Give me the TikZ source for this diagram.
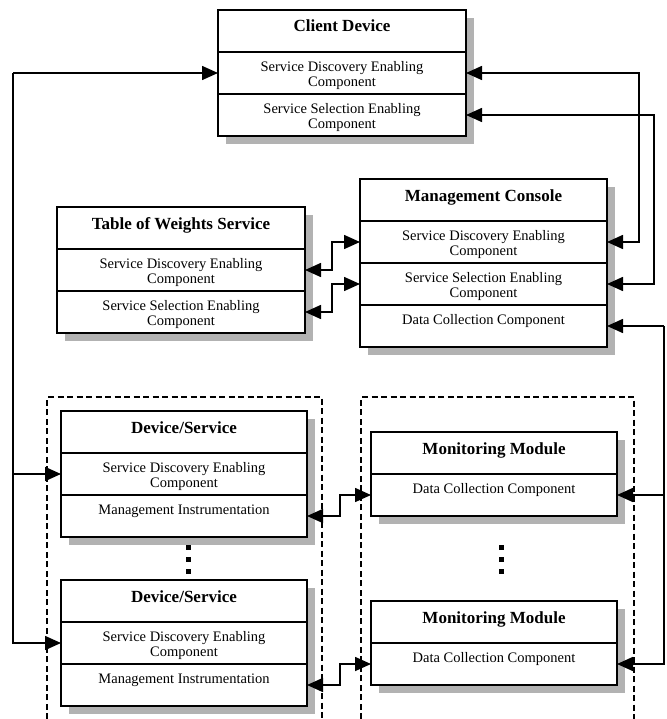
\documentclass[tikz,border=0pt]{standalone}
\usepackage{fontspec}
\setmainfont{Liberation Serif}
\usetikzlibrary{arrows.meta}
\definecolor{shadowgray}{RGB}{178,178,178}

% cell contents: a fixed 42pt high slot, text hung from the top
\newcommand{\headtext}[1]{\parbox[c][42pt][t]{236pt}{\centering\fontsize{17}{20}\selectfont\bfseries\rule{0pt}{22pt}#1}}
\newcommand{\onetext}[1]{\parbox[c][42pt][t]{236pt}{\centering\fontsize{14.5}{15}\selectfont\rule{0pt}{19.5pt}#1}}
\newcommand{\twotext}[2]{\parbox[c][42pt][t]{236pt}{\centering\fontsize{14.5}{15}\selectfont\rule{0pt}{19.5pt}#1\\#2}}

\tikzset{
  cell/.style={draw, line width=1.8pt, fill=white, minimum width=#1,
    minimum height=42pt, inner sep=0pt, outer sep=0pt, anchor=north west},
  shade/.style={fill=shadowgray},
  link/.style={line width=1.6pt, line join=miter},
  both/.style={link, {Triangle[length=16pt,width=14pt]}-{Triangle[length=16pt,width=14pt]}},
  tip/.style={link, -{Triangle[length=16pt,width=14pt]}},
  group/.style={line width=1.6pt, dash pattern=on 6pt off 3.5pt},
  dot/.style={fill=black}
}

\begin{document}
\begin{tikzpicture}[x=1pt, y={(0pt,-1pt)}]
\useasboundingbox (0,0) rectangle (666,719);

% dashed groups (open at the bottom edge)
\draw[group] (47,719) -- (47,397) -- (322,397) -- (322,719);
\draw[group] (361,719) -- (361,397) -- (634,397) -- (634,719);

% drop shadows
\fill[shade] (226,18) rectangle (474,144);   % client device
\fill[shade] (368,187) rectangle (615,355);  % management console
\fill[shade] (65,215) rectangle (313,341);   % table of weights
\fill[shade] (69,419) rectangle (315,545);   % device/service 1
\fill[shade] (69,588) rectangle (315,714);   % device/service 2
\fill[shade] (379,440) rectangle (625,524);  % monitoring 1
\fill[shade] (379,609) rectangle (625,693);  % monitoring 2

% Client Device
\node[cell=248pt] (cd1) at (218,10) {\headtext{Client Device}};
\node[cell=248pt] (cd2) at (218,52) {\twotext{Service Discovery Enabling}{Component}};
\node[cell=248pt] (cd3) at (218,94) {\twotext{Service Selection Enabling}{Component}};

% Management Console
\node[cell=247pt] (mc1) at (360,179) {\headtext{Management Console}};
\node[cell=247pt] (mc2) at (360,221) {\twotext{Service Discovery Enabling}{Component}};
\node[cell=247pt] (mc3) at (360,263) {\twotext{Service Selection Enabling}{Component}};
\node[cell=247pt] (mc4) at (360,305) {\onetext{Data Collection Component}};

% Table of Weights Service
\node[cell=248pt] (tw1) at (57,207) {\headtext{Table of Weights Service}};
\node[cell=248pt] (tw2) at (57,249) {\twotext{Service Discovery Enabling}{Component}};
\node[cell=248pt] (tw3) at (57,291) {\twotext{Service Selection Enabling}{Component}};

% Device/Service boxes
\node[cell=246pt] (da1) at (61,411) {\headtext{Device/Service}};
\node[cell=246pt] (da2) at (61,453) {\twotext{Service Discovery Enabling}{Component}};
\node[cell=246pt] (da3) at (61,495) {\onetext{Management Instrumentation}};
\node[cell=246pt] (db1) at (61,580) {\headtext{Device/Service}};
\node[cell=246pt] (db2) at (61,622) {\twotext{Service Discovery Enabling}{Component}};
\node[cell=246pt] (db3) at (61,664) {\onetext{Management Instrumentation}};

% Monitoring Module boxes
\node[cell=246pt] (ma1) at (371,432) {\headtext{Monitoring Module}};
\node[cell=246pt] (ma2) at (371,474) {\onetext{Data Collection Component}};
\node[cell=246pt] (mb1) at (371,601) {\headtext{Monitoring Module}};
\node[cell=246pt] (mb2) at (371,643) {\onetext{Data Collection Component}};

% vertical ellipses between repeated boxes
\foreach \yy in {547,559,571} {
  \fill[dot] (185.5,\yy-2.5) rectangle ++(5,5);
  \fill[dot] (498.5,\yy-2.5) rectangle ++(5,5);
}

% service discovery bus on the left
\coordinate (lbus) at (13,73);
\draw[tip] (lbus) -- (cd2.west);
\draw[tip] (lbus) |- (da2.west);
\draw[tip] (lbus) |- (db2.west);

% client device to management console
\coordinate (r1) at (639,242);
\coordinate (r2) at (654,284);
\draw[both] (cd2.east) -| (r1) -- (mc2.east);
\draw[both] (cd3.east) -| (r2) -- (mc3.east);

% table of weights to management console
\coordinate (t1) at (332,256);
\coordinate (t2) at (332,298);
\draw[both] (tw2.east) -| (t1) |- (mc2.west);
\draw[both] (tw3.east) -| (t2) |- (mc3.west);

% data collection bus on the right
\coordinate (rbus) at (664,326);
\draw[tip] (rbus) -- (mc4.east);
\draw[tip] (rbus) |- (ma2.east);
\draw[tip] (rbus) |- (mb2.east);

% management instrumentation to monitoring
\coordinate (m1) at (340,505);
\coordinate (m2) at (340,674);
\draw[both] (da3.east) -| (m1) |- (ma2.west);
\draw[both] (db3.east) -| (m2) |- (mb2.west);
\end{tikzpicture}
\end{document}
